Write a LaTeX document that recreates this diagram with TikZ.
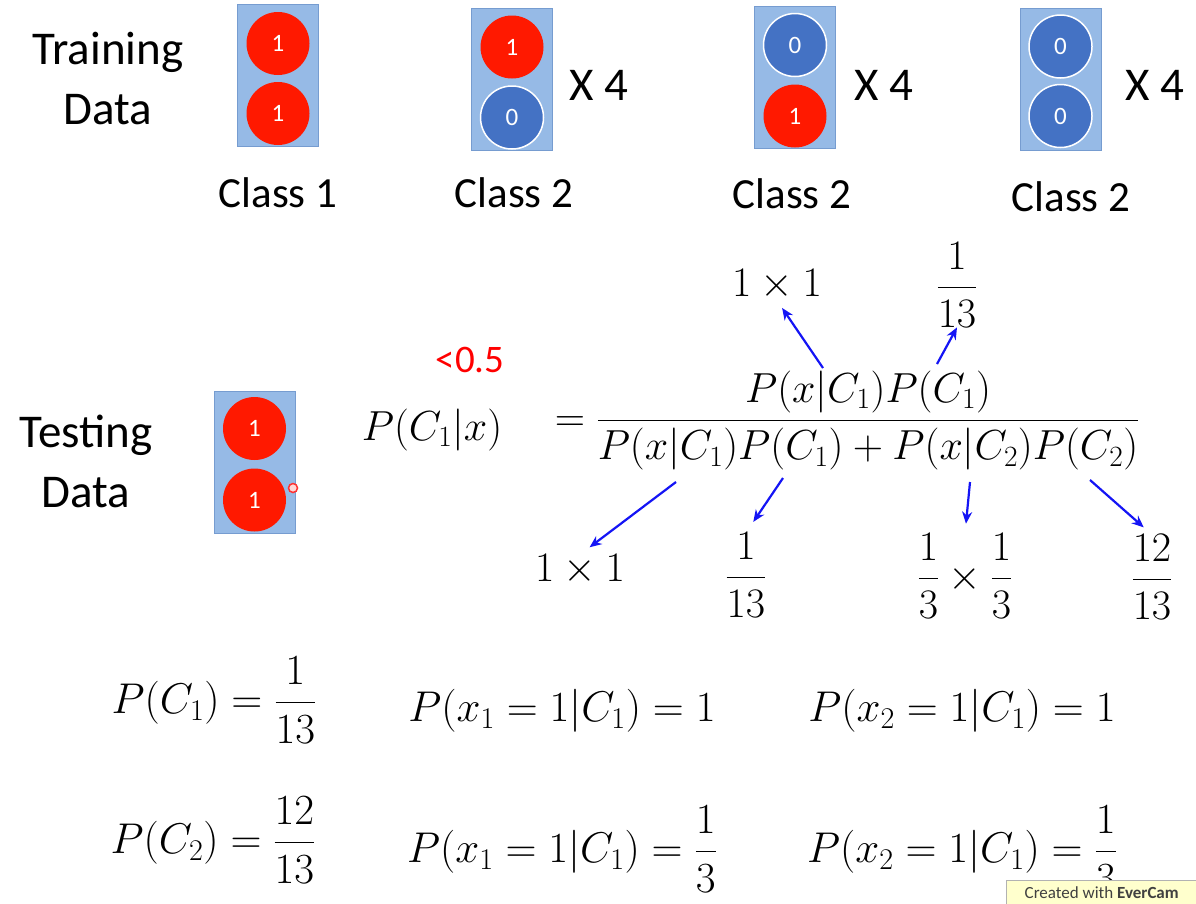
\RequirePackage{fix-cm}
\documentclass[tikz,border=0pt]{standalone}
\usepackage{amsmath}
\usepackage{fontspec}
\setmainfont{Carlito}
\usepackage{tikz}
\usetikzlibrary{arrows.meta,positioning}
\definecolor{boxfill}{RGB}{150,186,230}
\definecolor{boxedge}{RGB}{118,156,208}
\definecolor{dotred}{RGB}{255,25,0}
\definecolor{dotblue}{RGB}{68,114,196}
\definecolor{arrowblue}{RGB}{20,20,245}
\definecolor{tagyellow}{RGB}{255,255,205}
\tikzset{
  slidetext/.style={align=center,inner sep=0pt,font=\fontsize{47}{60}\selectfont},
  classlabel/.style={inner sep=0pt,font=\fontsize{43}{50}\selectfont},
  mathtext/.style={inner sep=0pt,font=\fontsize{42}{50}\selectfont},
  rowmath/.style={inner sep=0pt,font=\fontsize{43}{50}\selectfont},
  databox/.style={rectangle,draw=boxedge,fill=boxfill,line width=1pt,minimum width=81pt,minimum height=142pt},
  onedot/.style={circle,fill=dotred,minimum size=63pt,inner sep=0pt,text=white,font=\fontsize{25}{25}\selectfont},
  zerodot/.style={onedot,fill=dotblue,draw=white,line width=1.5pt},
  bluearr/.style={-{Stealth[length=12pt,width=10pt]},line width=2.2pt,color=arrowblue}
}

\begin{document}
\begin{tikzpicture}[x=1pt,y=-1pt]
  \useasboundingbox[fill=white] (0,0) rectangle (1196,903);

  % training data
  \node[slidetext] (train) at (108,78) {Training\\Data};
  \node[databox] (boxA) at (277.5,75) {};
  \node[onedot] (boxAtop) at (278,43.5) {1};
  \node[onedot] (boxAbot) at (278,113.5) {1};
  \node[classlabel] (clsA) at (278,193) {Class 1};

  \node[databox] (boxB) at (512,79.5) {};
  \node[onedot] (boxBtop) at (512,47) {1};
  \node[zerodot] (boxBbot) at (512,117.5) {0};
  \node[slidetext] (timesB) at (599,85) {X 4};
  \node[classlabel] (clsB) at (514,193) {Class 2};

  \node[databox] (boxC) at (795,77.5) {};
  \node[zerodot] (boxCtop) at (795,45) {0};
  \node[onedot] (boxCbot) at (795,116) {1};
  \node[slidetext] (timesC) at (884,85) {X 4};
  \node[classlabel] (clsC) at (792,194) {Class 2};

  \node[databox] (boxD) at (1060.5,79) {};
  \node[zerodot] (boxDtop) at (1060.5,46.5) {0};
  \node[zerodot] (boxDbot) at (1060.5,116) {0};
  \node[slidetext] (timesD) at (1155,85) {X 4};
  \node[classlabel] (clsD) at (1071,197) {Class 2};

  % testing data
  \node[slidetext] (test) at (86,461) {Testing\\Data};
  \node[databox] (boxT) at (254.5,462) {};
  \node[onedot] (boxTtop) at (254.5,428.5) {1};
  \node[onedot] (boxTbot) at (254.5,500) {1};
  \node[circle,draw=red!80,fill=pink!60,line width=1.5pt,minimum size=9pt,inner sep=0pt] (cursor) at (293,488) {};

  % posterior
  \node[inner sep=0pt,text=red,font=\fontsize{39}{44}\selectfont] (less) at (470,360) {<0.5};
  \node[mathtext,anchor=base] (post) at (432,440) {$P(C_1|x)$};
  \node[mathtext,anchor=base] (eqsign) at (570,431) {$=$};
  \node[mathtext,anchor=base] (bayes) at (868,431)
      {$\dfrac{P(x|C_1)P(C_1)}{P(x|C_1)P(C_1)+P(x|C_2)P(C_2)}$};

  \node[mathtext] (topA) at (777,285) {$1\times1$};
  \node[mathtext] (topB) at (957,285) {$\dfrac{1}{13}$};
  \node[mathtext] (botA) at (580,570) {$1\times1$};
  \node[mathtext] (botB) at (746,575) {$\dfrac{1}{13}$};
  \node[mathtext] (botC) at (965,576) {$\dfrac{1}{3}\times\dfrac{1}{3}$};
  \node[mathtext] (botD) at (1152,577) {$\dfrac{12}{13}$};

  \coordinate (numA) at (823,368);
  \coordinate (numB) at (937,364);
  \coordinate (denA) at (676,482);
  \coordinate (denB) at (783,478);
  \coordinate (denC) at (970,482);
  \coordinate (denD) at (1090,480);

  \draw[bluearr,shorten >=9pt] (numA) -- (topA.south);
  \draw[bluearr] (numB) -- (topB.south);
  \draw[bluearr,shorten >=12pt] (denA) -- (botA.north);
  \draw[bluearr,shorten >=13pt] (denB) -- (botB.north);
  \draw[bluearr,shorten >=10pt] (denC) -- (botC.north);
  \draw[bluearr,shorten >=11pt] (denD) -- (botD.north);

  % estimates
  \node[rowmath] (pcA) at (214,700) {$P(C_1)=\dfrac{1}{13}$};
  \node[rowmath] (pxA) at (562,711) {$P(x_1=1|C_1)=1$};
  \node[rowmath] (pyA) at (962,711) {$P(x_2=1|C_1)=1$};
  \node[rowmath] (pcB) at (213,840) {$P(C_2)=\dfrac{12}{13}$};
  \node[rowmath] (pxB) at (562,849) {$P(x_1=1|C_1)=\dfrac{1}{3}$};
  \node[rowmath] (pyB) at (962,849) {$P(x_2=1|C_1)=\dfrac{1}{3}$};

  \node[rectangle,draw=gray!60,fill=tagyellow,anchor=north west,minimum width=191pt,minimum height=24pt,
        inner sep=0pt,text=black!75,font=\fontsize{17}{17}\selectfont] (tag) at (1006,880)
      {Created with \textbf{EverCam}};
\end{tikzpicture}
\end{document}
